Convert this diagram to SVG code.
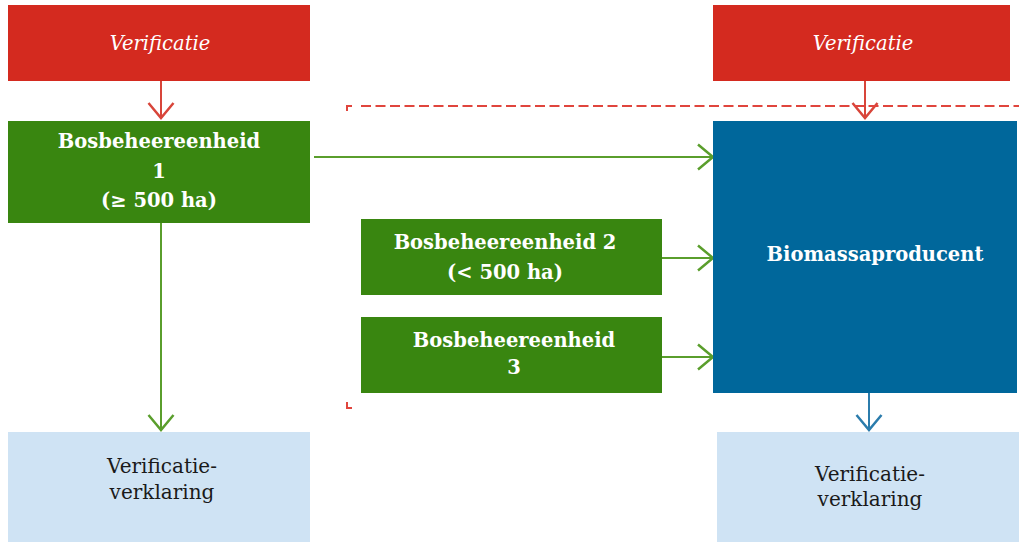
<svg xmlns="http://www.w3.org/2000/svg" width="1019" height="542" viewBox="0 0 1019 542">
<style>
.ver{fill:#d42a1f}
.grn{fill:#398610}
.blu{fill:#00679b}
.lbl{fill:#cfe3f4}
.t{font-family:"DejaVu Serif","Liberation Serif",serif;text-anchor:middle}
.wb{fill:#ffffff;font-weight:bold;font-size:19.5px}
.wi{fill:#ffffff;font-style:italic;font-size:19.5px}
.dk{fill:#1a1a1a;font-size:20px}
.ln{fill:none;stroke-width:2}
</style>
<defs>
<marker id="ag" markerUnits="userSpaceOnUse" markerWidth="30" markerHeight="30" viewBox="-16 -12 18 24" refX="0" refY="0" orient="auto"><path d="M-12,-10 L0,0 L-12,10" fill="none" stroke="#5a9e2c" stroke-width="2"/></marker>
<marker id="ar" markerUnits="userSpaceOnUse" markerWidth="30" markerHeight="30" viewBox="-16 -12 18 24" refX="0" refY="0" orient="auto"><path d="M-12,-10 L0,0 L-12,10" fill="none" stroke="#d8453a" stroke-width="2"/></marker>
<marker id="ab" markerUnits="userSpaceOnUse" markerWidth="30" markerHeight="30" viewBox="-16 -12 18 24" refX="0" refY="0" orient="auto"><path d="M-12,-10 L0,0 L-12,10" fill="none" stroke="#2b7cac" stroke-width="2"/></marker>
</defs>
<rect width="1019" height="542" fill="#ffffff"/>
<g id="connectors">
<path class="ln" d="M161,81 V118" stroke="#d8453a" marker-end="url(#ar)"/>
<path class="ln" d="M865,81 V118" stroke="#d8453a" marker-end="url(#ar)"/>
<path class="ln" d="M314,157 H713" stroke="#5a9e2c" marker-end="url(#ag)"/>
<path class="ln" d="M662,258 H713" stroke="#5a9e2c" marker-end="url(#ag)"/>
<path class="ln" d="M662,357 H713" stroke="#5a9e2c" marker-end="url(#ag)"/>
<path class="ln" d="M161,223 V430" stroke="#5a9e2c" marker-end="url(#ag)"/>
<path class="ln" d="M869,393 V430" stroke="#2b7cac" marker-end="url(#ab)"/>
</g>
<g id="boundary">
<path d="M347,111 V106 H352" fill="none" stroke="#e0453d" stroke-width="2"/>
<path d="M361,106 H1019" fill="none" stroke="#e0453d" stroke-width="2" stroke-dasharray="10 4.5"/>
<path d="M347,402 V408 H352" fill="none" stroke="#e0453d" stroke-width="2"/>
</g>
<g id="verificatie-1">
<rect class="ver" x="8" y="5" width="302" height="76"/>
<text class="t wi" x="160" y="50">Verificatie</text>
</g>
<g id="verificatie-2">
<rect class="ver" x="713" y="5" width="297" height="76"/>
<text class="t wi" x="863" y="50">Verificatie</text>
</g>
<g id="bbe1">
<rect class="grn" x="8" y="121" width="302" height="102"/>
<text class="t wb" x="159" y="148">Bosbeheereenheid</text>
<text class="t wb" x="159" y="178">1</text>
<text class="t wb" x="159" y="207">(≥ 500 ha)</text>
</g>
<g id="bbe2">
<rect class="grn" x="361" y="219" width="301" height="76"/>
<text class="t wb" x="505" y="249">Bosbeheereenheid 2</text>
<text class="t wb" x="505" y="279">(&lt; 500 ha)</text>
</g>
<g id="bbe3">
<rect class="grn" x="361" y="317" width="301" height="76"/>
<text class="t wb" x="514" y="347">Bosbeheereenheid</text>
<text class="t wb" x="514" y="374">3</text>
</g>
<g id="biomassaproducent">
<rect class="blu" x="713" y="121" width="304" height="272"/>
<text class="t wb" x="875" y="261">Biomassaproducent</text>
</g>
<g id="verklaring-1">
<rect class="lbl" x="8" y="432" width="302" height="110"/>
<text class="t dk" x="162" y="473">Verificatie-</text>
<text class="t dk" x="162" y="499">verklaring</text>
</g>
<g id="verklaring-2">
<rect class="lbl" x="717" y="432" width="302" height="110"/>
<text class="t dk" x="870" y="481">Verificatie-</text>
<text class="t dk" x="870" y="506">verklaring</text>
</g>
</svg>
